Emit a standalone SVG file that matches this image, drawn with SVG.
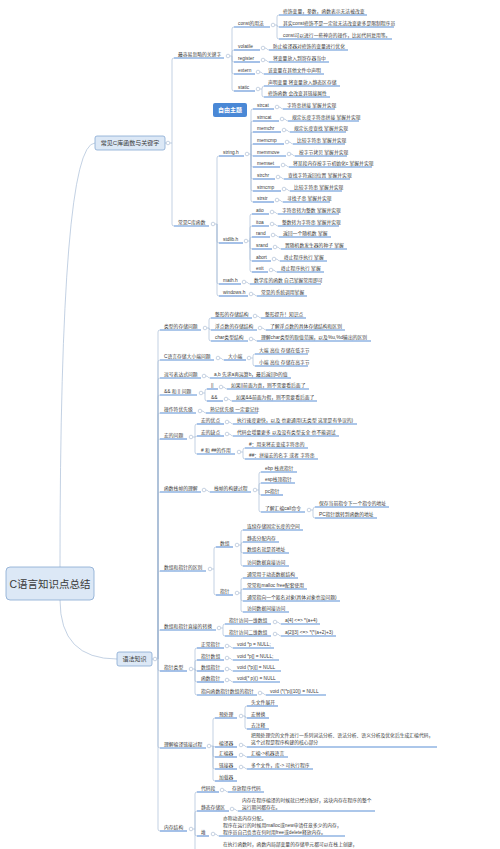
<svg xmlns="http://www.w3.org/2000/svg" width="500" height="849" viewBox="0 0 500 849">
<style>
text{font-family:"Liberation Sans","Noto Sans CJK SC",sans-serif;dominant-baseline:central;fill:#3a3a3a}
.t{font-size:4.8px}
.b{font-size:6px}
.r{font-size:10.5px}
.w{fill:#fff;font-weight:bold}
.u{stroke:#5b8fd6;stroke-width:1.1;fill:none}
.c{fill:#fff;stroke:#a3b6cf;stroke-width:0.6}
.e{fill:none;stroke:#a9bdd7;stroke-width:0.7}
.box{fill:#dce8f6;stroke:#86a8d2;stroke-width:0.8}
</style>
<rect width="500" height="849" fill="#fff"/>
<g id="connectors" class="e">
<path d="M60 567 Q60 143 95 143 M60 600 Q60 659 117 659"/>
<path d="M165 143 H166.2 M170 143 H172 M172 143 V60 Q172 58 174 58 M172 143 V224 Q172 226 174 226"/>
<path d="M230 56 H232 M232 56 V29 Q232 27 234 27 M232 56 V52 Q232 50 234 50 M232 56 V60 Q232 62 234 62 M232 56 V72 Q232 74 234 74 M232 56 V89 Q232 91 234 91"/>
<path d="M275 25 H277 M277 25 V17 Q277 15 279 15 M277 25 Q277 27 279 27 M277 25 V37 Q277 39 279 39"/>
<path d="M265 48 C267 48 267 50 269 50 M265 60 C267 60 267 62 269 62 M260 72 C262 72 262 74 264 74"/>
<path d="M260 89 H262 M262 89 Q262 86 264 86 M262 89 V95 Q262 97 264 97"/>
<path d="M215 224 H217 M217 224 V158 Q217 156 219 156 M217 224 V241 Q217 243 219 243 M217 224 V282 Q217 284 219 284 M217 224 V294 Q217 296 219 296"/>
<path d="M249 154 H251 M251 154 V111 Q251 109 253 109 M251 154 V123 Q251 121 253 121 M251 154 V134 Q251 132 253 132 M251 154 V146 Q251 144 253 144 M251 154 Q251 156 253 156 M251 154 V165 Q251 167 253 167 M251 154 V177 Q251 179 253 179 M251 154 V189 Q251 191 253 191 M251 154 V200 Q251 202 253 202"/>
<path d="M279 107 C281 107 281 109 283 109 M284 119 C286 119 286 121 288 121 M286 130 C288 130 288 132 290 132 M289 142 C291 142 291 144 293 144 M291 154 C293 154 293 156 295 156 M285 165 C287 165 287 167 289 167 M280 177 C282 177 282 179 284 179 M286 189 C288 189 288 191 290 191 M279 200 C281 200 281 202 283 202"/>
<path d="M248 241 H250 M250 241 V216 Q250 214 252 214 M250 241 V228 Q250 226 252 226 M250 241 V239 Q250 237 252 237 M250 241 V247 Q250 249 252 249 M250 241 V259 Q250 261 252 261 M250 241 V270 Q250 272 252 272"/>
<path d="M274 212 C276 212 276 214 278 214 M274 224 C276 224 276 226 278 226 M275 235 C277 235 277 237 279 237 M277 247 C279 247 279 249 281 249 M276 259 C278 259 278 261 280 261 M273 270 C275 270 275 272 277 272 M246 282 C248 282 248 284 250 284 M253 294 C255 294 255 296 257 296"/>
<path d="M152 659 H153.2 M156.8 659 H158 M158 659 V332 Q158 330 160 330 M158 659 V362 Q158 360 160 360 M158 659 V380 Q158 378 160 378 M158 659 V397 Q158 395 160 395 M158 659 V415 Q158 413 160 413 M158 659 V441 Q158 439 160 439 M158 659 V494 Q158 492 160 492 M158 659 V573 Q158 571 160 571 M158 659 V632 Q158 630 160 630 M158 659 V669 Q158 671 160 671 M158 659 V746 Q158 748 160 748 M158 659 V829 Q158 831 160 831"/>
<path d="M207 328 H209 M209 328 V320 Q209 318 211 318 M209 328 Q209 330 211 330 M209 328 V339 Q209 341 211 341 M257 316 C259 316 259 318 261 318 M262 328 C264 328 264 330 266 330 M253 339 C255 339 255 341 257 341"/>
<path d="M220 358 C222 358 222 360 224 360 M251 358 H253 M253 358 V356 Q253 354 255 354 M253 358 V364 Q253 366 255 366"/>
<path d="M206 376 C208 376 208 378 210 378"/>
<path d="M203 393 H205 M205 393 V391 Q205 389 207 389 M205 393 V399 Q205 401 207 401 M223 387 C225 387 225 389 227 389 M228 399 C230 399 230 401 232 401"/>
<path d="M202 411 C204 411 204 413 206 413"/>
<path d="M193 437 H195 M195 437 V426 Q195 424 197 424 M195 437 C196 437 196 436 197 436 M195 437 V452 Q195 454 197 454 M229 422 C231 422 231 424 233 424 M229 434 C231 434 231 436 233 436 M241 452 H243 M243 452 V450 Q243 448 245 448 M243 452 V457 Q243 459 245 459"/>
<path d="M206 490 C208 490 208 492 210 492 M257 490 H259 M259 490 V474 Q259 472 261 472 M259 490 V485 Q259 483 261 483 M259 490 V493 Q259 495 261 495 M259 490 V510 Q259 512 261 512 M311 510 H313 M313 510 Q313 507 315 507 M313 510 V516 Q313 518 315 518"/>
<path d="M212 569 H214 M214 569 V549 Q214 547 216 547 M214 569 V593 Q214 595 216 595 M239 545 H241 M241 545 V532 Q241 530 243 530 M241 545 Q241 542 243 542 M241 545 V551 Q241 553 243 553 M241 545 V564 Q241 566 243 566 M239 593 H241 M241 593 V580 Q241 578 243 578 M241 593 V591 Q241 589 243 589 M241 593 V599 Q241 601 243 601 M241 593 V610 Q241 612 243 612"/>
<path d="M221 628 H223 M223 628 V626 Q223 624 225 624 M223 628 V634 Q223 636 225 636 M277 622 C279 622 279 624 281 624 M277 634 C279 634 279 636 281 636"/>
<path d="M193 669 H195 M195 669 V650 Q195 648 197 648 M195 669 V662 Q195 660 197 660 M195 669 Q195 671 197 671 M195 669 V680 Q195 682 197 682 M195 669 V693 Q195 695 197 695 M229 646 C231 646 231 648 233 648 M229 658 C231 658 231 660 233 660 M229 669 C231 669 231 671 233 671 M229 680 C231 680 231 682 233 682 M262 693 C264 693 264 695 266 695"/>
<path d="M211 746 H213 M213 746 V720 Q213 718 215 718 M213 746 C214 746 214 747 215 747 M213 746 V755 Q213 757 215 757 M213 746 V767 Q213 769 215 769 M213 746 V779 Q213 781 215 781 M243 716 H245 M245 716 V708 Q245 706 247 706 M245 716 Q245 718 247 718 M245 716 V727 Q245 729 247 729 M243 745 C245 745 245 747 247 747 M243 755 C245 755 245 757 247 757 M243 767 C245 767 245 769 247 769"/>
<path d="M193 829 H195 M195 829 V794 Q195 792 197 792 M195 829 V813 Q195 811 197 811 M195 829 V834 Q195 836 197 836 M195 829 V860 M224 790 C226 790 226 792 228 792 M234 809 C236 809 236 811 238 811 M215 834 C217 834 217 836 219 836"/>
</g>

<g id="root"><rect class="box" x="6" y="567" width="88" height="33" rx="4"/><text class="r" x="50" y="583.5" text-anchor="middle">C语言知识点总结</text></g>
<g id="n-lib-kw"><rect class="box" x="95" y="136" width="70" height="14" rx="2"/><text class="b" x="130" y="143" text-anchor="middle">常见C库函数与关键字</text><circle class="c" cx="168" cy="143" r="1.8"/></g>
<g id="n-free"><rect x="213" y="103" width="34" height="14" rx="2" fill="#4a88d6"/><text class="b w" x="230" y="110" text-anchor="middle">自由主题</text></g>

<g id="n-kw"><text class="t" x="178" y="54">最容易忽略的关键字</text><path class="u" d="M174 58 H224"/><circle class="c" cx="228" cy="56" r="1.8"/></g>
<g id="n-const"><text class="t" x="238" y="23">const的用法</text><path class="u" d="M234 27 H270"/><circle class="c" cx="273" cy="25" r="1.8"/></g>
<g id="n-const1"><text class="t" x="283" y="11">修饰变量，参数，函数表示无法被改变</text><path class="u" d="M279 15 H367"/></g>
<g id="n-const2"><text class="t" x="283" y="23">其实const修饰不是一定就无法改变更多是限制程序员</text><path class="u" d="M279 27 H394"/></g>
<g id="n-const3"><text class="t" x="283" y="35">const可以进行一些神奇的操作，比如代码复用等。</text><path class="u" d="M279 39 H392"/></g>
<g id="n-volatile"><text class="t" x="238" y="46">volatile</text><path class="u" d="M234 50 H260"/><circle class="c" cx="263" cy="48" r="1.8"/></g>
<g id="n-volatile-d"><text class="t" x="273" y="46">防止编译器对修饰的变量进行优化</text><path class="u" d="M269 50 H348"/></g>
<g id="n-register"><text class="t" x="238" y="58">register</text><path class="u" d="M234 62 H260"/><circle class="c" cx="263" cy="60" r="1.8"/></g>
<g id="n-register-d"><text class="t" x="273" y="58">将变量放入到寄存器当中</text><path class="u" d="M269 62 H329"/></g>
<g id="n-extern"><text class="t" x="238" y="70">extern</text><path class="u" d="M234 74 H255"/><circle class="c" cx="258" cy="72" r="1.8"/></g>
<g id="n-extern-d"><text class="t" x="268" y="70">该变量在其他文件中声明</text><path class="u" d="M264 74 H324"/></g>
<g id="n-static"><text class="t" x="238" y="87">static</text><path class="u" d="M234 91 H255"/><circle class="c" cx="258" cy="89" r="1.8"/></g>
<g id="n-static1"><text class="t" x="268" y="82">声明变量 将变量放入静态区存储</text><path class="u" d="M264 86 H340"/></g>
<g id="n-static2"><text class="t" x="268" y="93">修饰函数 会改变其链接属性</text><path class="u" d="M264 97 H330"/></g>

<g id="n-lib"><text class="t" x="178" y="222">常见C库函数</text><path class="u" d="M174 226 H209"/><circle class="c" cx="213" cy="224" r="1.8"/></g>
<g id="n-string"><text class="t" x="223" y="152">string.h</text><path class="u" d="M219 156 H244"/><circle class="c" cx="247" cy="154" r="1.8"/></g>
<g id="n-strcat"><text class="t" x="257" y="105">strcat</text><path class="u" d="M253 109 H274"/><circle class="c" cx="277" cy="107" r="1.8"/><text class="t" x="287" y="105">字符串拼接 掌握并实现</text><path class="u" d="M283 109 H335"/></g>
<g id="n-strncat"><text class="t" x="257" y="117">strncat</text><path class="u" d="M253 121 H279"/><circle class="c" cx="282" cy="119" r="1.8"/><text class="t" x="292" y="117">规定长度字符串拼接 掌握并实现</text><path class="u" d="M288 121 H359"/></g>
<g id="n-memchr"><text class="t" x="257" y="128">memchr</text><path class="u" d="M253 132 H281"/><circle class="c" cx="284" cy="130" r="1.8"/><text class="t" x="294" y="128">规定长度查找 掌握并实现</text><path class="u" d="M290 132 H346"/></g>
<g id="n-memcmp"><text class="t" x="257" y="140">memcmp</text><path class="u" d="M253 144 H284"/><circle class="c" cx="287" cy="142" r="1.8"/><text class="t" x="297" y="140">比较字符串 掌握并实现</text><path class="u" d="M293 144 H345"/></g>
<g id="n-memmove"><text class="t" x="257" y="152">memmove</text><path class="u" d="M253 156 H286"/><circle class="c" cx="289" cy="154" r="1.8"/><text class="t" x="299" y="152">按字节拷贝 掌握并实现</text><path class="u" d="M295 156 H347"/></g>
<g id="n-memset"><text class="t" x="257" y="163">memset</text><path class="u" d="M253 167 H280"/><circle class="c" cx="283" cy="165" r="1.8"/><text class="t" x="293" y="163">将某段内存按字节初始化c 掌握并实现</text><path class="u" d="M289 167 H372"/></g>
<g id="n-strchr"><text class="t" x="257" y="175">strchr</text><path class="u" d="M253 179 H275"/><circle class="c" cx="278" cy="177" r="1.8"/><text class="t" x="288" y="175">查找字符返回位置 掌握并实现</text><path class="u" d="M284 179 H350"/></g>
<g id="n-strncmp"><text class="t" x="257" y="187">strncmp</text><path class="u" d="M253 191 H281"/><circle class="c" cx="284" cy="189" r="1.8"/><text class="t" x="294" y="187">比较字符串 掌握并实现</text><path class="u" d="M290 191 H342"/></g>
<g id="n-strstr"><text class="t" x="257" y="198">strstr</text><path class="u" d="M253 202 H274"/><circle class="c" cx="277" cy="200" r="1.8"/><text class="t" x="287" y="198">寻找子串 掌握并实现</text><path class="u" d="M283 202 H330"/></g>
<g id="n-stdlib"><text class="t" x="223" y="239">stdlib.h</text><path class="u" d="M219 243 H243"/><circle class="c" cx="246" cy="241" r="1.8"/></g>
<g id="n-atio"><text class="t" x="256" y="210">atio</text><path class="u" d="M252 214 H269"/><circle class="c" cx="272" cy="212" r="1.8"/><text class="t" x="282" y="210">字符串转为整数 掌握并实现</text><path class="u" d="M278 214 H339"/></g>
<g id="n-itoa"><text class="t" x="256" y="222">itoa</text><path class="u" d="M252 226 H269"/><circle class="c" cx="272" cy="224" r="1.8"/><text class="t" x="282" y="222">整数转为字符串 掌握并实现</text><path class="u" d="M278 226 H339"/></g>
<g id="n-rand"><text class="t" x="256" y="233">rand</text><path class="u" d="M252 237 H270"/><circle class="c" cx="273" cy="235" r="1.8"/><text class="t" x="283" y="233">返回一个随机数 掌握</text><path class="u" d="M279 237 H331"/></g>
<g id="n-srand"><text class="t" x="256" y="245">srand</text><path class="u" d="M252 249 H272"/><circle class="c" cx="275" cy="247" r="1.8"/><text class="t" x="285" y="245">置随机数发生器的种子 掌握</text><path class="u" d="M281 249 H347"/></g>
<g id="n-abort"><text class="t" x="256" y="257">abort</text><path class="u" d="M252 261 H271"/><circle class="c" cx="274" cy="259" r="1.8"/><text class="t" x="284" y="257">终止程序执行 掌握</text><path class="u" d="M280 261 H327"/></g>
<g id="n-exit"><text class="t" x="256" y="268">exit</text><path class="u" d="M252 272 H268"/><circle class="c" cx="271" cy="270" r="1.8"/><text class="t" x="281" y="268">终止程序执行 掌握</text><path class="u" d="M277 272 H324"/></g>
<g id="n-math"><text class="t" x="223" y="280">math.h</text><path class="u" d="M219 284 H241"/><circle class="c" cx="244" cy="282" r="1.8"/><text class="t" x="254" y="280">数学库的函数 自己掌握常用即可</text><path class="u" d="M250 284 H321"/></g>
<g id="n-windows"><text class="t" x="223" y="292">windows.h</text><path class="u" d="M219 296 H248"/><circle class="c" cx="251" cy="294" r="1.8"/><text class="t" x="261" y="292">常见的系统调用掌握</text><path class="u" d="M257 296 H307"/></g>

<g id="n-syntax"><rect class="box" x="117" y="652" width="35" height="14" rx="2"/><text class="b" x="134.5" y="659" text-anchor="middle">语法知识</text><circle class="c" cx="155" cy="659" r="1.8"/></g>
<g id="n-type"><text class="t" x="164" y="326">类型的存储问题</text><path class="u" d="M160 330 H201"/><circle class="c" cx="205" cy="328" r="1.8"/></g>
<g id="n-type1"><text class="t" x="215" y="314">整形的存储结构</text><path class="u" d="M211 318 H252"/><circle class="c" cx="255" cy="316" r="1.8"/><text class="t" x="265" y="314">整形提升！知识点</text><path class="u" d="M261 318 H306"/></g>
<g id="n-type2"><text class="t" x="215" y="326">浮点数的存储结构</text><path class="u" d="M211 330 H257"/><circle class="c" cx="260" cy="328" r="1.8"/><text class="t" x="270" y="326">了解浮点数的具体存储结构和区别</text><path class="u" d="M266 330 H345"/></g>
<g id="n-type3"><text class="t" x="215" y="337">char类型结构</text><path class="u" d="M211 341 H248"/><circle class="c" cx="251" cy="339" r="1.8"/><text class="t" x="261" y="337">理解char类型的取值范围，以及%u,%d输出的区别</text><path class="u" d="M257 341 H371"/></g>
<g id="n-endian"><text class="t" x="164" y="356">C语言存储大小端问题</text><path class="u" d="M160 360 H214"/><circle class="c" cx="218" cy="358" r="1.8"/></g>
<g id="n-endian1"><text class="t" x="228" y="356">大小端</text><path class="u" d="M224 360 H246"/><circle class="c" cx="249" cy="358" r="1.8"/></g>
<g id="n-big"><text class="t" x="259" y="350">大端 高位 存储在低字节</text><path class="u" d="M255 354 H308"/></g>
<g id="n-little"><text class="t" x="259" y="362">小端 高位 存储在高字节</text><path class="u" d="M255 366 H308"/></g>
<g id="n-comma"><text class="t" x="164" y="374">逗号表达式问题</text><path class="u" d="M160 378 H201"/><circle class="c" cx="204" cy="376" r="1.8"/><text class="t" x="214" y="374">a,b 先求a再运算b，最后返回b的值</text><path class="u" d="M210 378 H291"/></g>
<g id="n-logic"><text class="t" x="164" y="391">&amp;&amp; 和 || 问题</text><path class="u" d="M160 395 H197"/><circle class="c" cx="201" cy="393" r="1.8"/></g>
<g id="n-or"><text class="t" x="211" y="385">||</text><path class="u" d="M207 389 H218"/><circle class="c" cx="221" cy="387" r="1.8"/><text class="t" x="231" y="385">如果||前面为真，则不需要看后面了</text><path class="u" d="M227 389 H309"/></g>
<g id="n-and"><text class="t" x="211" y="397">&amp;&amp;</text><path class="u" d="M207 401 H223"/><circle class="c" cx="226" cy="399" r="1.8"/><text class="t" x="236" y="397">如果&amp;&amp;前面为假，则不需要看后面了</text><path class="u" d="M232 401 H317"/></g>
<g id="n-prio"><text class="t" x="164" y="409">操作符优先级</text><path class="u" d="M160 413 H196"/><circle class="c" cx="200" cy="411" r="1.8"/><text class="t" x="210" y="409">熟记优先级 一定要记住</text><path class="u" d="M206 413 H258"/></g>
<g id="n-macro"><text class="t" x="164" y="435">宏的问题</text><path class="u" d="M160 439 H187"/><circle class="c" cx="191" cy="437" r="1.8"/></g>
<g id="n-macro1"><text class="t" x="201" y="420">宏的优点</text><path class="u" d="M197 424 H224"/><circle class="c" cx="227" cy="422" r="1.8"/><text class="t" x="237" y="420">执行速度更快，以及 也更通用(无类型 这里是有争议的)</text><path class="u" d="M233 424 H357"/></g>
<g id="n-macro2"><text class="t" x="201" y="432">宏的缺点</text><path class="u" d="M197 436 H224"/><circle class="c" cx="227" cy="434" r="1.8"/><text class="t" x="237" y="432">代码会增量更多 以及没有类型安全 也不能调试</text><path class="u" d="M233 436 H339"/></g>
<g id="n-macro3"><text class="t" x="201" y="450"># 和 ##的作用</text><path class="u" d="M197 454 H235"/><circle class="c" cx="239" cy="452" r="1.8"/></g>
<g id="n-hash1"><text class="t" x="249" y="444">#：用来将宏变成字符串的</text><path class="u" d="M245 448 H308"/></g>
<g id="n-hash2"><text class="t" x="249" y="455">##：拼接宏的名字 或者 字符串</text><path class="u" d="M245 459 H318"/></g>
<g id="n-frame"><text class="t" x="164" y="488">函数栈帧的理解</text><path class="u" d="M160 492 H201"/><circle class="c" cx="204" cy="490" r="1.8"/></g>
<g id="n-frame1"><text class="t" x="214" y="488">栈帧的构建过程</text><path class="u" d="M210 492 H251"/><circle class="c" cx="255" cy="490" r="1.8"/></g>
<g id="n-ebp"><text class="t" x="265" y="468">ebp 栈底指针</text><path class="u" d="M261 472 H297"/></g>
<g id="n-esp"><text class="t" x="265" y="479">esp栈顶指针</text><path class="u" d="M261 483 H295"/></g>
<g id="n-pc"><text class="t" x="265" y="491">pc指针</text><path class="u" d="M261 495 H283"/></g>
<g id="n-call"><text class="t" x="265" y="508">了解汇编call命令</text><path class="u" d="M261 512 H305"/><circle class="c" cx="309" cy="510" r="1.8"/></g>
<g id="n-call1"><text class="t" x="319" y="503">保存当前指令下一个指令的地址</text><path class="u" d="M315 507 H389"/></g>
<g id="n-call2"><text class="t" x="319" y="514">PC指针跳转到函数的地址</text><path class="u" d="M315 518 H377"/></g>
<g id="n-diff"><text class="t" x="164" y="567">数组和指针的区别</text><path class="u" d="M160 571 H206"/><circle class="c" cx="210" cy="569" r="1.8"/></g>
<g id="n-arr"><text class="t" x="220" y="543">数组</text><path class="u" d="M216 547 H233"/><circle class="c" cx="237" cy="545" r="1.8"/></g>
<g id="n-arr1"><text class="t" x="247" y="526">连续存储固定长度的空间</text><path class="u" d="M243 530 H303"/></g>
<g id="n-arr2"><text class="t" x="247" y="538">静态分配内存</text><path class="u" d="M243 542 H279"/></g>
<g id="n-arr3"><text class="t" x="247" y="549">数组名就是首地址</text><path class="u" d="M243 553 H289"/></g>
<g id="n-arr4"><text class="t" x="247" y="562">访问数据直接访问</text><path class="u" d="M243 566 H289"/></g>
<g id="n-ptr"><text class="t" x="220" y="591">指针</text><path class="u" d="M216 595 H233"/><circle class="c" cx="237" cy="593" r="1.8"/></g>
<g id="n-ptr1"><text class="t" x="247" y="574">通常用于动态数据结构</text><path class="u" d="M243 578 H298"/></g>
<g id="n-ptr2"><text class="t" x="247" y="585">常常和malloc free配套使用</text><path class="u" d="M243 589 H307"/></g>
<g id="n-ptr3"><text class="t" x="247" y="597">通常指向一个匿名对象(具体对象也没问题)</text><path class="u" d="M243 601 H340"/></g>
<g id="n-ptr4"><text class="t" x="247" y="608">访问数据间接访问</text><path class="u" d="M243 612 H289"/></g>
<g id="n-conv"><text class="t" x="164" y="626">数组和指针直接的转换</text><path class="u" d="M160 630 H216"/><circle class="c" cx="219" cy="628" r="1.8"/></g>
<g id="n-conv1"><text class="t" x="229" y="620">指针访问一维数组</text><path class="u" d="M225 624 H271"/><circle class="c" cx="275" cy="622" r="1.8"/><text class="t" x="285" y="620">a[4] &lt;=&gt; *(a+4)</text><path class="u" d="M281 624 H320"/></g>
<g id="n-conv2"><text class="t" x="229" y="632">指针访问二维数组</text><path class="u" d="M225 636 H271"/><circle class="c" cx="275" cy="634" r="1.8"/><text class="t" x="285" y="632">a[2][3] &lt;=&gt; *(*(a+2)+3)</text><path class="u" d="M281 636 H336"/></g>
<g id="n-ptype"><text class="t" x="164" y="667">指针类型</text><path class="u" d="M160 671 H187"/><circle class="c" cx="191" cy="669" r="1.8"/></g>
<g id="n-ptype1"><text class="t" x="201" y="644">正常指针</text><path class="u" d="M197 648 H224"/><circle class="c" cx="227" cy="646" r="1.8"/><text class="t" x="237" y="644">void *p = NULL;</text><path class="u" d="M233 648 H274"/></g>
<g id="n-ptype2"><text class="t" x="201" y="656">指针数组</text><path class="u" d="M197 660 H224"/><circle class="c" cx="227" cy="658" r="1.8"/><text class="t" x="237" y="656">void *p[] = NULL;</text><path class="u" d="M233 660 H279"/></g>
<g id="n-ptype3"><text class="t" x="201" y="667">数组指针</text><path class="u" d="M197 671 H224"/><circle class="c" cx="227" cy="669" r="1.8"/><text class="t" x="237" y="667">void (*p)[] = NULL</text><path class="u" d="M233 671 H281"/></g>
<g id="n-ptype4"><text class="t" x="201" y="678">函数指针</text><path class="u" d="M197 682 H224"/><circle class="c" cx="227" cy="680" r="1.8"/><text class="t" x="237" y="678">void(* p)() = NULL</text><path class="u" d="M233 682 H280"/></g>
<g id="n-ptype5"><text class="t" x="201" y="691">指向函数指针数组的指针</text><path class="u" d="M197 695 H257"/><circle class="c" cx="260" cy="693" r="1.8"/><text class="t" x="270" y="691">void (*(*p)[10]) = NULL</text><path class="u" d="M266 695 H326"/></g>
<g id="n-build"><text class="t" x="164" y="744">理解编译链接过程</text><path class="u" d="M160 748 H206"/><circle class="c" cx="209" cy="746" r="1.8"/></g>
<g id="n-pre"><text class="t" x="219" y="714">预处理</text><path class="u" d="M215 718 H237"/><circle class="c" cx="241" cy="716" r="1.8"/></g>
<g id="n-pre1"><text class="t" x="251" y="702">头文件展开</text><path class="u" d="M247 706 H278"/></g>
<g id="n-pre2"><text class="t" x="251" y="714">宏替换</text><path class="u" d="M247 718 H269"/></g>
<g id="n-pre3"><text class="t" x="251" y="725">去注释</text><path class="u" d="M247 729 H269"/></g>
<g id="n-compiler"><text class="t" x="219" y="743">编译器</text><path class="u" d="M215 747 H237"/><circle class="c" cx="241" cy="745" r="1.8"/></g>
<g id="n-compiler-d"><text class="t" x="251" y="735.5">把预处理完的文件进行一系列词法分析、语法分析、语义分析及优化后生成汇编代码，</text><text class="t" x="251" y="742">这个过程是程序构建的核心部分</text><path class="u" d="M247 747 H437"/></g>
<g id="n-asm"><text class="t" x="219" y="753">汇编器</text><path class="u" d="M215 757 H237"/><circle class="c" cx="241" cy="755" r="1.8"/><text class="t" x="251" y="753">汇编-&gt;机器语言</text><path class="u" d="M247 757 H288"/></g>
<g id="n-link"><text class="t" x="219" y="765">链接器</text><path class="u" d="M215 769 H237"/><circle class="c" cx="241" cy="767" r="1.8"/><text class="t" x="251" y="765">多个文件，库-&gt; 可执行程序</text><path class="u" d="M247 769 H313"/></g>
<g id="n-load"><text class="t" x="219" y="777">加载器</text><path class="u" d="M215 781 H237"/></g>
<g id="n-mem"><text class="t" x="164" y="827">内存结构</text><path class="u" d="M160 831 H187"/><circle class="c" cx="191" cy="829" r="1.8"/></g>
<g id="n-code"><text class="t" x="201" y="788">代码段</text><path class="u" d="M197 792 H219"/><circle class="c" cx="222" cy="790" r="1.8"/><text class="t" x="232" y="788">存放程序代码</text><path class="u" d="M228 792 H264"/></g>
<g id="n-static-area"><text class="t" x="201" y="807">静态存储区</text><path class="u" d="M197 811 H229"/><circle class="c" cx="232" cy="809" r="1.8"/><text class="t" x="242" y="800.5">内存在程序编译的时候就已经分配好，这块内存在程序的整个</text><text class="t" x="242" y="807">运行期间都存在。</text><path class="u" d="M238 811 H375"/></g>
<g id="n-heap"><text class="t" x="201" y="832">堆</text><path class="u" d="M197 836 H209"/><circle class="c" cx="213" cy="834" r="1.8"/><text class="t" x="223" y="818">亦称动态内存分配。</text><text class="t" x="223" y="825">程序在运行的时候用malloc或new申请任意多少的内存，</text><text class="t" x="223" y="832">程序员自己负责在何时用free或delete释放内存。</text><path class="u" d="M219 836 H345"/></g>
<g id="n-stack-d"><text class="t" x="223" y="844">在执行函数时，函数内局部变量的存储单元都可以在栈上创建，</text></g>
</svg>
